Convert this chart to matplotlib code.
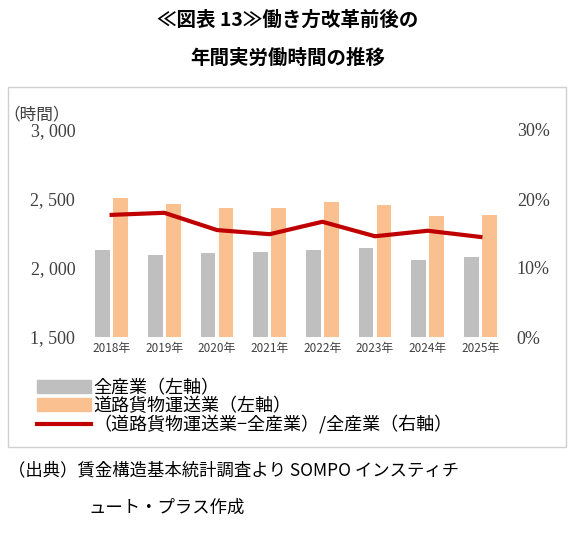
import matplotlib
matplotlib.use("Agg")
import matplotlib.pyplot as plt
from matplotlib.patches import Rectangle
from matplotlib.lines import Line2D
import numpy as np

plt.rcParams['font.family'] = ['Noto Sans CJK JP', 'DejaVu Sans']

years = ["2018年", "2019年", "2020年", "2021年", "2022年", "2023年", "2024年", "2025年"]
all_ind = [2130, 2094, 2110, 2116, 2130, 2145, 2058, 2080]
trucking = [2507, 2464, 2435, 2435, 2478, 2457, 2377, 2384]
ratio = [17.7, 18.0, 15.5, 14.9, 16.7, 14.6, 15.4, 14.5]

W, H = 575, 533
fig = plt.figure(figsize=(W/100, H/100), dpi=100)

fig.text(0.5, 1-20/H, "≪図表 13≫働き方改革前後の", ha='center', va='center', fontsize=14, weight='bold')
fig.text(0.5, 1-58/H, "年間実労働時間の推移", ha='center', va='center', fontsize=14, weight='bold')

fig.patches.append(Rectangle((8/W, 1-447/H), 558/W, 360/H, transform=fig.transFigure,
                             fill=False, edgecolor='#d0d0d0', lw=1))

ax = fig.add_axes([80/W, 1-337/H, 432/W, 207/H])
x = np.arange(len(years))
w = 0.28
ax.bar(x-0.17, all_ind, w, color='#bfbfbf')
ax.bar(x+0.17, trucking, w, color='#fac090')
ax.set_ylim(1500, 3000)
ax.set_yticks([1500, 2000, 2500, 3000])
ax.set_yticklabels(["1, 500", "2, 000", "2, 500", "3, 000"], fontsize=13, family=['Liberation Serif'], color='#404040')
ax.set_xticks(x)
ax.set_xticklabels(years, fontsize=8.5, color='#404040')
ax.set_xlim(-0.6, 7.6)
for s in ax.spines.values():
    s.set_visible(False)
ax.tick_params(length=0)
ax.text(-0.1, 1.05, "（時間）", transform=ax.transAxes, ha='center', fontsize=12, color='#404040')

ax2 = ax.twinx()
ax2.plot(x, ratio, color='#c00000', lw=3)
ax2.set_ylim(0, 30)
ax2.set_yticks([0, 10, 20, 30])
ax2.set_yticklabels(["0%", "10%", "20%", "30%"], fontsize=13, family=['Liberation Serif'], color='#404040')
for s in ax2.spines.values():
    s.set_visible(False)
ax2.tick_params(length=0)

handles = [Rectangle((0, 0), 1, 1, color='#bfbfbf'), Rectangle((0, 0), 1, 1, color='#fac090'),
           Line2D([0], [0], color='#c00000', lw=3)]
labels = ['全産業（左軸）', '道路貨物運送業（左軸）', '（道路貨物運送業−全産業）/全産業（右軸）']
fig.legend(handles, labels, loc='upper left', bbox_to_anchor=(28/W, 1-370/H), frameon=False,
           fontsize=13, handlelength=3, labelspacing=0.0, handletextpad=0.1, borderpad=0)

fig.text(8/W, 1-470/H, "（出典）賃金構造基本統計調査より SOMPO インスティチ", fontsize=12.5, va='center')
fig.text(88/W, 1-508/H, "ュート・プラス作成", fontsize=12.5, va='center')

fig.savefig("out.png", dpi=100)
